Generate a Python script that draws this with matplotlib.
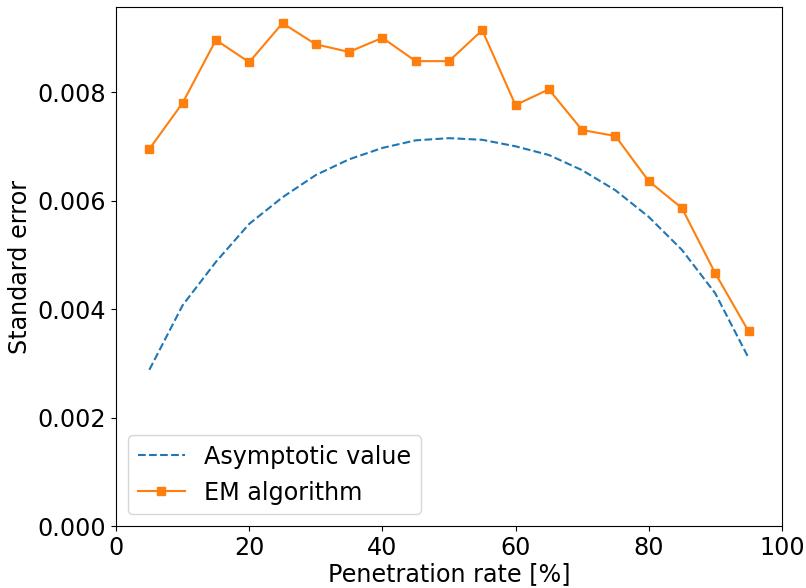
import numpy as np
import matplotlib
matplotlib.use('Agg')
import matplotlib.pyplot as plt

# penetration rate [%]
rate = [5, 10, 15, 20, 25, 30, 35, 40, 45, 50, 55, 60, 65, 70, 75, 80, 85, 90, 95]

asymptotic = [0.00288, 0.00407, 0.00487, 0.00557, 0.00606, 0.00647, 0.00676,
              0.00697, 0.00711, 0.00715, 0.00712, 0.00700, 0.00684, 0.00656,
              0.00619, 0.00570, 0.00509, 0.00429, 0.00310]

em = [0.00695, 0.00780, 0.00896, 0.00855, 0.00927, 0.00888, 0.00874, 0.00900,
      0.00857, 0.00857, 0.00914, 0.00776, 0.00805, 0.00730, 0.00719, 0.00636,
      0.00586, 0.00466, 0.00359]

plt.rcParams['font.size'] = 17.2

fig = plt.figure(figsize=(8.06, 5.88), dpi=100)
ax = fig.add_axes([0.144, 0.1054, 0.826, 0.8826])

ax.plot(rate, asymptotic, '--', color='tab:blue', label='Asymptotic value')
ax.plot(rate, em, '-s', color='tab:orange', markersize=6, label='EM algorithm')

ax.set_xlim(0, 100)
ax.set_ylim(0, 0.009567)
ax.set_yticks([0, 0.002, 0.004, 0.006, 0.008])
ax.set_yticklabels(['0.000', '0.002', '0.004', '0.006', '0.008'])
ax.set_xlabel('Penetration rate [%]', labelpad=2)
ax.set_ylabel('Standard error')
ax.legend(loc='lower left')

fig.savefig('out.png')
